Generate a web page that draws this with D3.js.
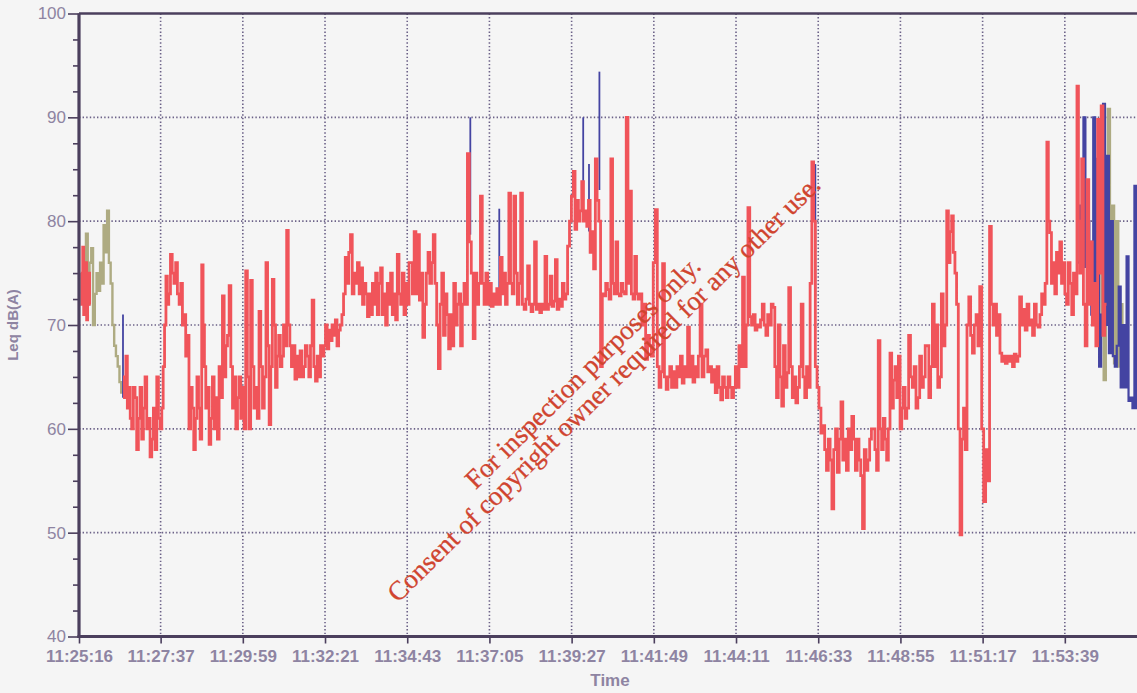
<!DOCTYPE html>
<html>
<head>
<meta charset="utf-8">
<script src="https://cdn.jsdelivr.net/npm/d3@7"></script>
<style>
  html, body { margin: 0; padding: 0; background: #f5f5f5; }
  svg { display: block; }
</style>
</head>
<body>
<svg id="chart" width="1137" height="693"></svg>
<script>
// ---------------- DATA ----------------
const startLabel = "11:25:16";
const tickLabels = ["11:25:16","11:27:37","11:29:59","11:32:21","11:34:43","11:37:05","11:39:27",
                    "11:41:49","11:44:11","11:46:33","11:48:55","11:51:17","11:53:39"];
const yMajorTicks = [40, 50, 60, 70, 80, 90, 100];
const yMinorTicks = [42.5, 45, 47.5, 52.5, 55, 57.5, 62.5, 65, 67.5, 72.5, 75, 77.5, 82.5, 85, 87.5, 92.5, 95, 97.5];
const yLabel = "Leq dB(A)";
const xLabel = "Time";
const watermarkLines = ["For inspection purposes only.", "Consent of copyright owner required for any other use."];

// runs: [start second (from 11:25:16), end second, Leq values spread evenly across the run]
const redRuns = [
  [3, 20, [75, 72, 77.5, 71, 74, 76, 70.5, 73, 75, 72]],
  [76, 91, [65, 63, 67, 62, 64, 61]],
  [91, 143, [60, 64, 63, 58, 61, 64, 59, 62, 65, 60, 61, 57.3, 59, 62, 58, 65, 61, 60]],
  [143, 155, [62, 66, 70, 74.7, 72]],
  [155, 173, [73, 76.8, 75, 74, 76, 73]],
  [173, 190, [72, 74, 70, 71, 67, 69]],
  [190, 212, [60, 64, 62, 58, 61, 65, 62, 59]],
  [212, 219, [75.8, 70, 66]],
  [219, 242, [62, 64, 58.5, 61, 65, 60, 63, 59]],
  [242, 271, [66, 63, 72.8, 65, 68, 69, 73.8, 66, 62, 65]],
  [271, 288, [60, 63, 65, 61, 64, 60]],
  [288, 305, [75.2, 65, 60, 74.3, 66, 62]],
  [305, 323, [64, 61, 71.3, 66, 62, 65]],
  [323, 345, [76, 68, 60.4, 66, 74.4, 70, 64, 67]],
  [345, 367, [69, 66, 67, 70, 68, 79.1, 70, 68]],
  [367, 397, [66, 68, 64.8, 67, 65, 67.5, 65, 66, 68, 67]],
  [397, 423, [65, 68, 72.4, 66, 64.6, 67, 65, 68, 67]],
  [423, 457, [68, 70, 67.7, 69.5, 68.5, 70, 69, 70.5, 68, 69.5, 70, 71]],
  [457, 487, [73, 76.5, 74, 77, 78.7, 73, 75, 74, 76, 73]],
  [487, 521, [75.5, 72, 74, 73, 70.8, 73, 71, 74, 72, 75, 71, 74]],
  [521, 573, [75.5, 71, 73, 70, 74, 72, 75, 71, 73, 70.5, 76.8, 73, 72, 75, 71, 74, 72, 76]],
  [573, 612, [76, 73, 79, 73, 78.7, 72.4, 75, 68.8, 72, 75, 77, 74, 76]],
  [612, 671, [78.7, 74, 70, 65.8, 72, 75, 69, 73, 71, 67.7, 71, 68, 74, 70, 72, 73, 68, 72, 74, 72]],
  [671, 681, [86.5, 78, 75]],
  [681, 706, [68.7, 75, 72, 74, 82.4, 74, 72, 75]],
  [706, 728, [72, 74, 71.8, 73, 72, 73.5, 72]],
  [728, 763, [76.5, 73, 75, 72, 74, 82.7, 74, 73, 82.4, 75, 72, 74]],
  [763, 844, [82.7, 72, 71.5, 72.5, 75.7, 72, 71.3, 72, 78, 71.5, 72, 71.2, 72, 71.5, 76.6, 71.5, 72,
              74.7, 71.8, 72.3, 76.3, 71.5, 72.5, 71.8, 74, 72.5, 73]],
  [844, 854, [77.6, 80, 82.4]],
  [854, 883, [84.8, 79.2, 82, 80, 81, 83.8, 80, 81, 79.5, 82]],
  [883, 892, [77, 79, 75.4]],
  [892, 901, [86, 82, 80]],
  [901, 904, [66]],
  [904, 969, [73, 72.8, 74, 73.4, 72.5, 86, 74, 73, 78, 73, 72.8, 74, 73.2, 73, 90, 74, 82.9, 73, 72.5, 76.6, 73, 72.5]],
  [969, 992, [73, 70, 72, 66.7, 69, 68, 67]],
  [992, 999, [76, 81.1]],
  [999, 1039, [66, 64, 65.5, 75.9, 65, 63.8, 65, 66, 64, 65.5, 64, 66, 65]],
  [1039, 1073, [67, 64.4, 66, 65, 69.8, 65, 67, 64.5, 66, 65, 67]],
  [1073, 1096, [72, 65, 67, 67.6, 65.5, 66, 64.5]],
  [1096, 1137, [65.7, 63.5, 66, 64, 62.8, 65, 64, 63, 65, 64, 63, 64, 66]],
  [1137, 1199, [64, 68, 66, 74.6, 66, 70, 81.3, 70.8, 70, 71, 69.5, 70, 69.8, 70.5, 72, 70, 69, 71, 70, 72]],
  [1199, 1223, [71.7, 66, 63, 70, 65, 62.2, 68, 64]],
  [1223, 1263, [65.4, 73.6, 66, 63, 65, 62.5, 64, 66, 72, 65, 63, 66, 64]],
  [1263, 1275, [74, 85.7, 80, 66]],
  [1275, 1285, [64, 62, 59.6]],
  [1285, 1332, [60.3, 58, 56, 59, 57, 52.3, 58, 60, 55.8, 59, 62.6, 57, 59, 56, 60]],
  [1332, 1372, [58, 61.2, 59, 56, 59, 57, 55.5, 50.4, 58, 56, 57, 59, 60]],
  [1372, 1401, [60, 58, 56, 68.5, 60, 58, 61, 59, 57, 60]],
  [1401, 1430, [67.3, 62, 64.7, 66, 63, 67, 60, 62, 64, 61]],
  [1430, 1465, [62, 69, 65, 64, 66, 62, 63, 67, 64, 65, 68]],
  [1465, 1499, [68, 63, 66, 72, 66, 70, 64, 65, 73, 68, 70]],
  [1499, 1516, [81, 76, 79, 80.5, 77, 75]],
  [1516, 1534, [72, 60, 49.8, 59, 62, 58]],
  [1534, 1556, [70, 72.7, 69, 67.3, 70, 71, 68]],
  [1556, 1573, [73.7, 60, 53, 58, 55]],
  [1573, 1591, [79.5, 72, 70, 72, 69, 71]],
  [1591, 1625, [67.3, 66.5, 67, 66.3, 67, 66.5, 67, 66, 67.2, 66.5, 67]],
  [1625, 1660, [72.7, 70, 71.5, 69.5, 72, 70, 70.5, 69, 72, 70, 69.8]],
  [1660, 1672, [71, 73, 72, 74]],
  [1672, 1677, [87.6, 80]],
  [1677, 1706, [78.9, 74, 76, 73, 77, 75, 78, 74, 76, 73]],
  [1706, 1724, [72, 76, 74, 71, 75, 73]],
  [1724, 1729, [93, 80]],
  [1729, 1775, [75, 86, 72, 68, 84, 72, 78, 70, 74, 68, 89.8, 75, 91.1, 69, 72]]
];

const oliveRuns = [
  [9, 76, [74, 78.8, 72, 76, 77.4, 70, 73, 75, 73.3, 76, 74, 79.6, 77, 81, 76, 74, 70, 68, 67, 66, 64.5, 63.5]],
  [1763, 1806, [70, 86.3, 64.7, 75, 90.8, 68, 81.5, 66.3, 80, 66, 72, 65]]
];

const blueRuns = [
  [1725, 1830, [76, 81.5, 75.6, 90, 75.6, 80, 78, 71, 90, 72, 86, 66, 71, 91.3, 70, 86.3, 67.3, 80, 67,
                66, 68, 73.7, 64, 70, 64, 76.6, 62.7, 63, 62, 83.4, 62]]
];

// isolated blue peaks: [second, low, high]
const blueSpikes = [
  [76, 63, 71], [676, 78.7, 90], [726, 72, 81.2], [871, 82, 90],
  [881, 79, 85.5], [899, 83, 94.4], [1272, 72.7, 85.5]
];

// ---------------- CHART ----------------
const svg = d3.select("#chart");
const parse = d3.timeParse("%H:%M:%S");
const t0 = parse(startLabel);
const sec = s => new Date(t0.getTime() + s * 1000);

const x0 = 79, pxPerSec = 82.2 / 142;
const tEnd = 1900;
const x = d3.scaleTime().domain([t0, sec(tEnd)]).range([x0, x0 + tEnd * pxPerSec]);
const y = d3.scaleLinear().domain([40, 100]).range([636.5, 13.5]);

const axisColor = "#4b3f5d";
const gridColor = "#6c6288";
const labelColor = "#8e84a2";
const fontFam = "'Liberation Sans', Arial, Helvetica, sans-serif";

const plotRight = 1137;

// grid
const grid = svg.append("g");
const tickDates = tickLabels.map(parse);
grid.selectAll("line.v").data(tickDates.slice(1)).join("line")
  .attr("x1", d => x(d)).attr("x2", d => x(d))
  .attr("y1", y(100)).attr("y2", y(40))
  .attr("stroke", gridColor).attr("stroke-width", 1.6).attr("stroke-dasharray", "1.4,2.2");
grid.selectAll("line.h").data(yMajorTicks.filter(v => v > 40 && v < 100)).join("line")
  .attr("x1", x0).attr("x2", plotRight)
  .attr("y1", d => y(d)).attr("y2", d => y(d))
  .attr("stroke", gridColor).attr("stroke-width", 1.6).attr("stroke-dasharray", "1.4,2.2");

// series
function buildPoints(runs) {
  const pts = [];
  let prevEnd = null, prevVal = null;
  runs.forEach(([s, e, vals]) => {
    if (prevEnd !== null && s - prevEnd > 1) {
      pts.push({ t: prevEnd, v: prevVal });
      pts.push(null);
    }
    const step = (e - s) / vals.length;
    vals.forEach((v, i) => pts.push({ t: s + i * step, v }));
    prevEnd = e; prevVal = vals[vals.length - 1];
  });
  if (prevEnd !== null) pts.push({ t: prevEnd, v: prevVal });
  return pts;
}
const line = d3.line()
  .defined(d => d !== null)
  .x(d => x(sec(d.t))).y(d => y(d.v))
  .curve(d3.curveStepAfter);

const series = svg.append("g");
series.append("path").datum(buildPoints(oliveRuns))
  .attr("d", line).attr("fill", "none").attr("stroke", "#aeab82").attr("stroke-width", 2.4);
series.append("path").datum(buildPoints(blueRuns))
  .attr("d", line).attr("fill", "none").attr("stroke", "#4444a2").attr("stroke-width", 2.2);
series.selectAll("line.spike").data(blueSpikes).join("line")
  .attr("x1", d => x(sec(d[0]))).attr("x2", d => x(sec(d[0])))
  .attr("y1", d => y(d[1])).attr("y2", d => y(d[2]))
  .attr("stroke", "#4444a2").attr("stroke-width", 1.8);
series.append("path").datum(buildPoints(redRuns))
  .attr("d", line).attr("fill", "none").attr("stroke", "#f0545a").attr("stroke-width", 2.8)
  .attr("stroke-linejoin", "miter");

// axes
const yAxis = d3.axisLeft(y).tickValues(yMajorTicks).tickSize(11).tickPadding(2)
  .tickFormat(d3.format("d"));
const gy = svg.append("g").attr("transform", `translate(${x0},0)`).call(yAxis);
gy.select(".domain").remove();
gy.selectAll(".tick line").attr("stroke", axisColor).attr("stroke-width", 1.6);
gy.selectAll(".tick text").attr("fill", labelColor).style("font", `17px ${fontFam}`);

const yMinor = d3.axisLeft(y).tickValues(yMinorTicks).tickSize(6).tickFormat("");
const gym = svg.append("g").attr("transform", `translate(${x0},0)`).call(yMinor);
gym.select(".domain").remove();
gym.selectAll(".tick line").attr("stroke", axisColor).attr("stroke-width", 1.6);

const xAxis = d3.axisBottom(x).tickValues(tickDates).tickSize(7).tickPadding(6)
  .tickFormat((d, i) => tickLabels[i]);
const gx = svg.append("g").attr("transform", `translate(0,${y(40)})`).call(xAxis);
gx.select(".domain").remove();
gx.selectAll(".tick line").attr("stroke", axisColor).attr("stroke-width", 1.6);
gx.selectAll(".tick text").attr("fill", labelColor).style("font", `bold 17px ${fontFam}`);

// frame lines
svg.append("line").attr("x1", x0).attr("x2", x0).attr("y1", y(100)).attr("y2", y(40) + 1.5)
  .attr("stroke", axisColor).attr("stroke-width", 3.2);
svg.append("line").attr("x1", x0 - 1.5).attr("x2", plotRight).attr("y1", y(40)).attr("y2", y(40))
  .attr("stroke", axisColor).attr("stroke-width", 3.2);
svg.append("line").attr("x1", x0).attr("x2", plotRight).attr("y1", y(100)).attr("y2", y(100))
  .attr("stroke", axisColor).attr("stroke-width", 2.4);

// axis titles
svg.append("text").attr("transform", `translate(18,${y(70)}) rotate(-90)`)
  .attr("text-anchor", "middle").attr("fill", labelColor)
  .style("font", `bold 15px ${fontFam}`).text(yLabel);
svg.append("text").attr("x", 610).attr("y", 686)
  .attr("text-anchor", "middle").attr("fill", labelColor)
  .style("font", `bold 17px ${fontFam}`).text(xLabel);

// watermark
const wm = svg.append("g").attr("fill", "#d0442f")
  .attr("stroke", "#d0442f").attr("stroke-width", 0.3)
  .attr("font-family", "'Liberation Serif', 'Times New Roman', serif")
  .attr("font-size", 27);
wm.append("text").attr("transform", "translate(589,379) rotate(-44.5)")
  .attr("text-anchor", "middle")
  .text(watermarkLines[0]);
wm.append("text").attr("transform", "translate(610,395) rotate(-44.5)")
  .attr("text-anchor", "middle")
  .text(watermarkLines[1]);
</script>
</body>
</html>
